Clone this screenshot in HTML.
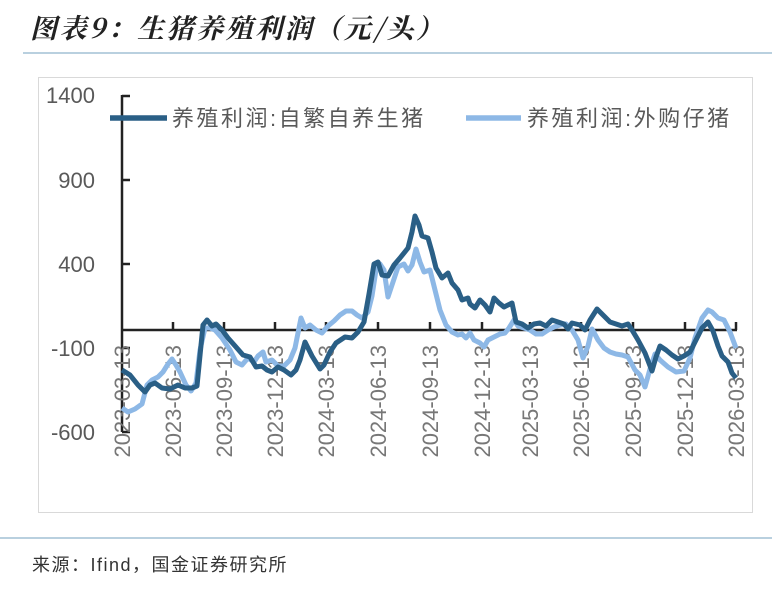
<!DOCTYPE html>
<html><head><meta charset="utf-8"><style>
body{margin:0;background:#fff;width:772px;height:585px;overflow:hidden;font-family:"Liberation Sans","Noto Sans CJK SC",sans-serif}
</style></head><body>
<svg width="772" height="585" xmlns="http://www.w3.org/2000/svg" font-family="Liberation Sans, Noto Sans CJK SC, sans-serif">
<text x="30" y="38" font-size="27" font-style="italic" font-weight="bold" fill="#222" letter-spacing="2.5" font-family="Noto Serif CJK SC, Noto Sans CJK SC, serif">图表9：生猪养殖利润（元/头）</text>
<line x1="23" y1="53" x2="772" y2="53" stroke="#8fb4cc" stroke-width="1.2"/>
<rect x="38.5" y="77.5" width="714" height="435" fill="none" stroke="#d9d9d9" stroke-width="1"/>
<line x1="0" y1="538" x2="772" y2="538" stroke="#8fb4cc" stroke-width="1.2"/>
<text x="32" y="571" font-size="18" fill="#333" letter-spacing="1.5">来源：Ifind，国金证券研究所</text>
<g font-size="22" fill="#595959" text-anchor="end">
<text x="95" y="103">1400</text><text x="95" y="188">900</text><text x="95" y="272">400</text><text x="95" y="356">-100</text><text x="95" y="440">-600</text>
</g>
<g stroke="#222" stroke-width="2.5" fill="none">
<line x1="122" y1="95" x2="122" y2="432"/>
<line x1="122" y1="96" x2="130" y2="96"/><line x1="122" y1="180" x2="130" y2="180"/><line x1="122" y1="264" x2="130" y2="264"/><line x1="122" y1="348" x2="130" y2="348"/><line x1="122" y1="432" x2="130" y2="432"/>
<line x1="122" y1="330" x2="737" y2="330"/>
<path d="M173 330v-8M224 330v-8M275 330v-8M326 330v-8M378 330v-8M430 330v-8M482 330v-8M530 330v-8M581 330v-8M633 330v-8M685 330v-8M736 330v-8"/>
</g>
<g font-size="22" fill="#777" text-anchor="end">
<text transform="translate(130,345) rotate(-90)">2023-03-13</text>
<text transform="translate(181,345) rotate(-90)">2023-06-13</text>
<text transform="translate(232,345) rotate(-90)">2023-09-13</text>
<text transform="translate(283,345) rotate(-90)">2023-12-13</text>
<text transform="translate(334,345) rotate(-90)">2024-03-13</text>
<text transform="translate(386,345) rotate(-90)">2024-06-13</text>
<text transform="translate(438,345) rotate(-90)">2024-09-13</text>
<text transform="translate(490,345) rotate(-90)">2024-12-13</text>
<text transform="translate(538,345) rotate(-90)">2025-03-13</text>
<text transform="translate(589,345) rotate(-90)">2025-06-13</text>
<text transform="translate(641,345) rotate(-90)">2025-09-13</text>
<text transform="translate(693,345) rotate(-90)">2025-12-13</text>
<text transform="translate(744,345) rotate(-90)">2026-03-13</text>
</g>
<polyline fill="none" stroke="#8db8e6" stroke-width="5" stroke-linejoin="round" points="122,408 128,412 135,409 142,404 147,385 152,380 158,377 163,372 168,364 172,359 176,365 180,372 186,385 191,391 196,383 200,350 205,328 210,328 215,330 222,338 230,350 236,362 242,365 248,358 254,362 258,356 263,352 266,362 272,360 278,366 284,366 290,360 295,348 301,318 305,328 310,325 316,330 322,333 328,326 334,321 340,315 346,311 352,311 357,315 362,318 368,312 372,296 376,270 380,264 384,270 388,297 392,285 398,267 404,264 408,271 412,265 416,249 420,262 424,272 430,270 435,290 440,310 446,325 452,332 458,335 462,334 466,338 470,333 474,340 480,343 484,347 488,340 494,337 500,334 505,333 509,328 514,320 518,326 524,328 530,330 536,334 542,334 548,330 554,327 560,325 566,324 572,330 578,340 583,358 588,346 592,329 598,340 604,348 610,352 616,354 622,355 628,357 635,370 640,375 645,387 650,369 655,354 660,360 668,367 676,372 684,371 690,358 695,338 702,318 708,310 712,312 718,318 724,320 730,332 736,348"/>
<polyline fill="none" stroke="#2a5f86" stroke-width="5" stroke-linejoin="round" points="122,370 130,375 138,385 145,392 150,385 155,383 162,388 170,389 178,385 185,388 192,388 197,386 203,325 207,320 212,326 216,324 222,330 228,338 236,347 243,355 250,357 256,367 262,366 267,370 272,372 278,367 284,370 291,375 296,370 300,360 305,342 312,356 320,369 324,365 330,352 336,343 345,337 352,338 358,332 364,322 369,294 374,264 378,262 382,275 388,276 394,265 400,258 408,248 412,232 415,216 419,225 422,236 428,238 432,252 436,268 442,278 448,273 452,283 458,290 462,300 468,298 470,304 475,308 480,300 485,305 490,312 494,298 499,303 504,307 508,305 512,303 516,322 522,324 528,328 534,324 540,323 546,326 552,320 558,322 564,324 568,329 572,323 580,325 585,330 590,320 597,309 603,315 610,322 616,324 622,326 628,324 632,330 638,340 645,353 652,371 656,357 660,346 666,350 672,355 678,359 684,356 690,352 696,340 702,328 708,322 713,331 718,346 722,356 728,362 732,373 736,378"/>
<line x1="110" y1="118" x2="167" y2="118" stroke="#2a5f86" stroke-width="5.5"/>
<text x="172" y="126" font-size="22" fill="#595959" letter-spacing="2.5">养殖利润:自繁自养生猪</text>
<line x1="466" y1="118" x2="521" y2="118" stroke="#8db8e6" stroke-width="5.5"/>
<text x="527" y="126" font-size="22" fill="#595959" letter-spacing="2.5">养殖利润:外购仔猪</text>
</svg>
</body></html>
